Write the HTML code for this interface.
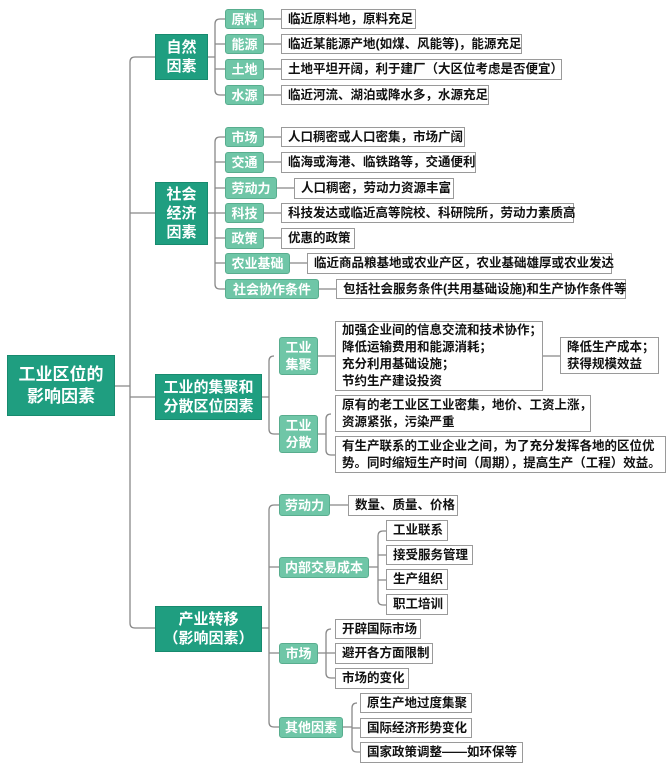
<!DOCTYPE html>
<html><head><meta charset="utf-8"><style>
body{margin:0;width:669px;height:771px;background:#fff;position:relative;overflow:hidden;font-family:"Liberation Sans","Noto Sans CJK SC",sans-serif;font-weight:bold}
div{position:absolute;box-sizing:border-box;display:flex;align-items:center;white-space:nowrap}
.d{background:#1f9e80;color:#fff;justify-content:center;text-align:center;font-size:15px;line-height:19px;border:1px solid #178a6e}
.g{background:#6fc6a7;color:#fff;justify-content:center;text-align:center;font-size:13px;line-height:17px;border:1px solid #58ad8e;border-radius:3px}
.l{background:#fff;color:#111;border:1.5px solid #9a9a9a;font-size:12.5px;padding-left:6px;line-height:17px}
svg{position:absolute;left:0;top:0}
</style></head><body>
<svg width="669" height="771" fill="none" stroke="#888" stroke-width="1.3">
<path d="M115 386H130M130 62V623Q130 628 135 628H155M130 62Q130 57 135 57H155M130 213H155M130 397H155"/>
<path d="M208 57H215M220 19Q215 19 215 24V90Q215 95 220 95H225M215 44H225M215 69H225M220 19H225"/>
<path d="M264 19H281M264 44H281M264 69H281M264 95H281"/>
<path d="M208 213H215M220 137Q215 137 215 142V284Q215 289 220 289H225M220 137H225M215 162H225M215 188H225M215 213H225M215 238H225M215 263H225"/>
<path d="M264 137H281M264 162H281M277 188H294M264 213H281M264 238H281M290 263H307M319 289H336"/>
<path d="M262 397H269M274 356Q269 356 269 361V429Q269 434 274 434H279"/>
<path d="M318 356H335M543 356H560"/>
<path d="M318 434H326M331 414Q326 414 326 419V450Q326 455 331 455H335"/>
<path d="M262 628H269M274 505Q269 505 269 510V722Q269 727 274 727H279M269 567H279M269 653H279M274 505H279"/>
<path d="M330 505H348"/>
<path d="M369 567H378M383 531Q378 531 378 536V600Q378 605 383 605H386M378 555H386M378 580H386M383 531H386"/>
<path d="M318 653H326M331 629Q326 629 326 634V673Q326 678 331 678H335M326 653H335"/>
<path d="M343 727H352M357 703Q352 703 352 708V747Q352 752 357 752H360M352 728H360"/>
</svg>
<div class="d" style="left:7px;top:355px;width:108px;height:61px;font-size:17px;line-height:22px">工业区位的<br>影响因素</div>
<div class="d" style="left:155px;top:34px;width:53px;height:46px">自然<br>因素</div>
<div class="d" style="left:155px;top:182px;width:53px;height:63px">社会<br>经济<br>因素</div>
<div class="d" style="left:155px;top:374px;width:107px;height:46px">工业的集聚和<br>分散区位因素</div>
<div class="d" style="left:155px;top:606px;width:107px;height:46px">产业转移<br>（影响因素）</div>

<div class="g" style="left:225px;top:9px;width:39px;height:20px">原料</div>
<div class="g" style="left:225px;top:34px;width:39px;height:20px">能源</div>
<div class="g" style="left:225px;top:59px;width:39px;height:21px">土地</div>
<div class="g" style="left:225px;top:85px;width:39px;height:20px">水源</div>
<div class="l" style="left:281px;top:9px;width:135px;height:20px">临近原料地，原料充足</div>
<div class="l" style="left:281px;top:34px;width:241px;height:20px">临近某能源产地(如煤、风能等)，能源充足</div>
<div class="l" style="left:281px;top:59px;width:281px;height:21px">土地平坦开阔，利于建厂（大区位考虑是否便宜）</div>
<div class="l" style="left:281px;top:85px;width:208px;height:20px">临近河流、湖泊或降水多，水源充足</div>

<div class="g" style="left:225px;top:127px;width:39px;height:20px">市场</div>
<div class="g" style="left:225px;top:152px;width:39px;height:21px">交通</div>
<div class="g" style="left:225px;top:177px;width:52px;height:22px">劳动力</div>
<div class="g" style="left:225px;top:203px;width:39px;height:20px">科技</div>
<div class="g" style="left:225px;top:228px;width:39px;height:21px">政策</div>
<div class="g" style="left:225px;top:253px;width:65px;height:21px">农业基础</div>
<div class="g" style="left:225px;top:279px;width:94px;height:20px">社会协作条件</div>
<div class="l" style="left:281px;top:127px;width:184px;height:20px">人口稠密或人口密集，市场广阔</div>
<div class="l" style="left:281px;top:152px;width:195px;height:21px">临海或海港、临铁路等，交通便利</div>
<div class="l" style="left:294px;top:178px;width:160px;height:21px">人口稠密，劳动力资源丰富</div>
<div class="l" style="left:281px;top:203px;width:293px;height:20px">科技发达或临近高等院校、科研院所，劳动力素质高</div>
<div class="l" style="left:281px;top:228px;width:74px;height:21px">优惠的政策</div>
<div class="l" style="left:307px;top:253px;width:305px;height:21px">临近商品粮基地或农业产区，农业基础雄厚或农业发达</div>
<div class="l" style="left:336px;top:279px;width:290px;height:20px">包括社会服务条件(共用基础设施)和生产协作条件等</div>

<div class="g" style="left:279px;top:337px;width:39px;height:38px">工业<br>集聚</div>
<div class="l" style="left:335px;top:321px;width:208px;height:70px">加强企业间的信息交流和技术协作；<br>降低运输费用和能源消耗；<br>充分利用基础设施；<br>节约生产建设投资</div>
<div class="l" style="left:560px;top:337px;width:99px;height:37px">降低生产成本；<br>获得规模效益</div>
<div class="g" style="left:279px;top:415px;width:39px;height:38px">工业<br>分散</div>
<div class="l" style="left:335px;top:395px;width:256px;height:37px">原有的老工业区工业密集，地价、工资上涨，<br>资源紧张，污染严重</div>
<div class="l" style="left:335px;top:436px;width:331px;height:37px">有生产联系的工业企业之间，为了充分发挥各地的区位优<br>势。同时缩短生产时间（周期），提高生产（工程）效益。</div>

<div class="g" style="left:279px;top:494px;width:51px;height:22px">劳动力</div>
<div class="l" style="left:348px;top:495px;width:110px;height:21px">数量、质量、价格</div>
<div class="g" style="left:279px;top:557px;width:90px;height:21px">内部交易成本</div>
<div class="l" style="left:386px;top:520px;width:62px;height:21px">工业联系</div>
<div class="l" style="left:386px;top:545px;width:87px;height:20px">接受服务管理</div>
<div class="l" style="left:386px;top:569px;width:62px;height:21px">生产组织</div>
<div class="l" style="left:386px;top:594px;width:62px;height:21px">职工培训</div>
<div class="g" style="left:279px;top:643px;width:39px;height:21px">市场</div>
<div class="l" style="left:335px;top:619px;width:86px;height:20px">开辟国际市场</div>
<div class="l" style="left:335px;top:643px;width:98px;height:21px">避开各方面限制</div>
<div class="l" style="left:335px;top:668px;width:74px;height:21px">市场的变化</div>
<div class="g" style="left:279px;top:717px;width:64px;height:21px">其他因素</div>
<div class="l" style="left:360px;top:693px;width:112px;height:20px">原生产地过度集聚</div>
<div class="l" style="left:360px;top:718px;width:112px;height:20px">国际经济形势变化</div>
<div class="l" style="left:360px;top:742px;width:163px;height:21px">国家政策调整——如环保等</div>
</body></html>
